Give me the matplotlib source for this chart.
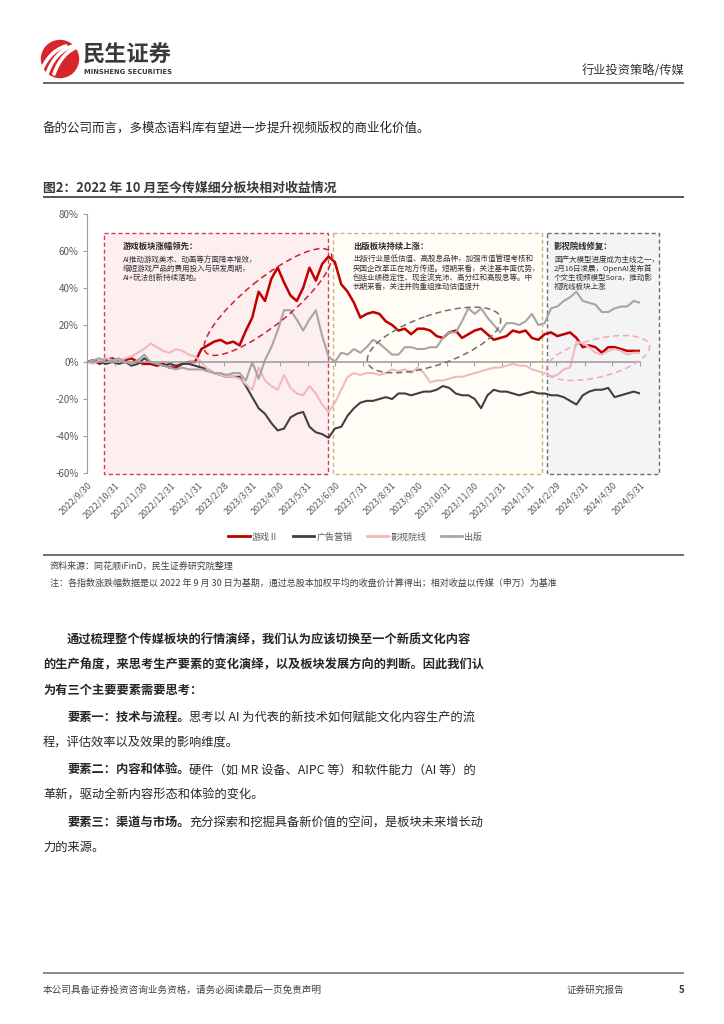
"""Page 5 of the Minsheng media strategy report: sub-sector relative returns."""

import matplotlib

matplotlib.use("Agg")
import matplotlib.pyplot as plt                      # noqa: E402
from matplotlib.patches import Rectangle, Ellipse, Circle, PathPatch  # noqa: E402
from matplotlib.path import Path                     # noqa: E402
from matplotlib.lines import Line2D                  # noqa: E402
import pandas as pd                                  # noqa: E402

plt.rcParams["font.family"] = ["Noto Sans CJK SC", "DejaVu Sans"]

# ---- data (relative return, %, weekly reads off the chart) ----
DATES = pd.date_range("2022-09-30", "2024-05-31", periods=88)
GAME = [0, 1, -1, 1, 2, 0, 1, 2, 0, -1, -1, -2, -1, -3, -3, -1, 0, 0, 7, 9,
        11, 12, 10, 11, 9, 17, 24, 38, 33, 45, 51, 43, 36, 33, 40, 51, 44, 53, 57, 54,
        42, 38, 32, 24, 26, 27, 26, 22, 20, 17, 18, 15, 18, 18, 17, 14, 13, 16, 17, 13,
        15, 17, 18, 15, 12, 13, 14, 17, 16, 17, 13, 12, 15, 16, 14, 15, 16, 13, 8, 9,
        8, 5, 8, 8, 7, 6, 6, 6]
ADV = [0, 1, 0, -1, 0, -1, 0, -2, -1, 2, 0, -1, -2, -1, -2, -1, -1, -2, -3, -4,
       -6, -7, -8, -8, -8, -13, -19, -25, -28, -33, -37, -36, -30, -28, -27, -35, -38, -39, -41, -36,
       -35, -29, -25, -22, -21, -21, -20, -19, -20, -17, -17, -18, -17, -16, -16, -15, -13, -14, -17, -18,
       -18, -20, -25, -18, -15, -16, -16, -17, -18, -17, -16, -17, -17, -18, -18, -19, -21, -23, -18, -16,
       -15, -15, -14, -19, -18, -17, -16, -17]
FILM = [0, -1, 1, 2, 1, 0, 2, 3, 5, 7, 10, 8, 6, 5, 7, 6, 4, 3, 0, -4,
        -6, -7, -8, -8, -9, -12, -15, -3, -10, -13, -15, -7, -14, -17, -18, -13, -17, -23, -27, -22,
        -15, -8, -6, -7, -6, -6, -7, -6, -4, -5, -4, -6, -3, -6, -11, -10, -10, -9, -8, -8,
        -7, -6, -5, -4, -3, -3, -2, -1, -2, -2, -4, -5, -6, -8, -7, -4, -3, 11, 10, 8,
        5, 4, 6, 7, 6, 4, 5, 5]
PUB = [0, 1, 2, 0, 1, 2, 0, -1, 1, 4, 0, -1, -2, -3, -4, -3, -4, -4, -4, -5,
       -6, -6, -7, -6, -6, -10, 0, -9, 1, 8, 17, 28, 28, 23, 17, 23, 28, 14, 3, 0,
       5, 4, 7, 5, 8, 12, 10, 7, 4, 4, 8, 8, 7, 7, 8, 8, 13, 16, 16, 22,
       29, 26, 29, 24, 20, 16, 21, 21, 20, 22, 26, 20, 21, 29, 30, 33, 35, 38, 33, 32,
       31, 27, 27, 29, 30, 30, 33, 32]

SERIES = ["游戏Ⅱ", "广告营销", "影视院线", "出版"]
COLORS = ["#c00000", "#404040", "#f2b9b9", "#a6a6a6"]
YTICKS = [-60, -40, -20, 0, 20, 40, 60, 80]
XTICKS = pd.date_range("2022-09-30", "2024-05-31", freq="ME")

W, H = 724, 1024
TXT = "#262626"
GREY_TXT = "#595959"


def rect(x0, y0, x1, y1):
    """Page pixel box -> figure fraction rect."""
    return [x0 / W, 1 - y1 / H, (x1 - x0) / W, (y1 - y0) / H]


def overlay(z):
    a = fig.add_axes([0, 0, 1, 1])
    a.set_xlim(0, W)
    a.set_ylim(H, 0)
    a.axis("off")
    a.set_zorder(z)
    a.patch.set_alpha(0)
    return a


fig = plt.figure(figsize=(W / 100, H / 100), dpi=100)
bg = overlay(0)

# ---- header ----
bg.add_patch(Circle((60, 59), 18.5, color="#d7262b"))
for dx in (-7, 0, 7):
    verts = [(47 + dx, 74), (52 + dx, 60), (60 + dx, 50), (73 + dx, 46)]
    bg.add_patch(PathPatch(Path(verts, [Path.MOVETO, Path.CURVE4, Path.CURVE4, Path.CURVE4]),
                           fc="none", ec="white", lw=2.6, capstyle="round"))
bg.text(83, 55, "民生证券", fontsize=16, fontweight="bold", color="#3a3a3a", va="center")
bg.text(84, 72, "MINSHENG SECURITIES", fontsize=4.9, fontweight="bold", color="#3a3a3a",
        va="center", family=["DejaVu Sans"])
bg.text(684, 70, "行业投资策略/传媒", fontsize=8.8, color="#333333", ha="right", va="center")
bg.hlines(83, 43, 684, color="#666666", lw=1.4)

bg.text(43, 128, "备的公司而言，多模态语料库有望进一步提升视频版权的商业化价值。",
        fontsize=9, color=TXT, va="center")

# ---- figure title ----
bg.text(43, 188, "图2：2022 年 10 月至今传媒细分板块相对收益情况", fontsize=9.3,
        fontweight="bold", color="#3a3a3a", va="center")
bg.hlines(196.5, 43, 684, color="#555555", lw=1.4)

# ---- highlight boxes ----
boxes = [((104, 233, 328, 474), "#fdeef0", "#d2404c"),
         ((333, 233, 542, 474), "#fffdf5", "#c8b478"),
         ((547, 233, 659, 474), "#f4f4f6", "#6e6e6e")]
for (x0, y0, x1, y1), fc, ec in boxes:
    bg.add_patch(Rectangle((x0, y0), x1 - x0, y1 - y0, fc=fc, ec=ec, lw=1.0,
                           ls=(0, (3, 2))))

notes = [
    (123, "游戏板块涨幅领先：", ["AI推动游戏美术、动画等方面降本增效，",
                           "缩短游戏产品的费用投入与研发周期，",
                           "AI+玩法创新持续落地。"]),
    (353, "出版板块持续上涨：", ["出版行业是低估值、高股息品种，加强市值管理考核和",
                           "央国企改革正在地方传递。短期来看，关注基本面优势，",
                           "包括业绩稳定性、现金流充沛、高分红和高股息等。中",
                           "长期来看，关注并购重组推动估值提升"]),
    (554, "影视院线修复：", ["国产大模型进度成为主线之一，",
                        "2月16日凌晨，OpenAI发布首",
                        "个文生视频模型Sora，推动影",
                        "视院线板块上涨"]),
]
for x, head, lines in notes:
    bg.text(x, 246, head, fontsize=6.0, fontweight="bold", color="#262626", va="center")
    for k, s in enumerate(lines):
        bg.text(x, 259.5 + 9 * k, s, fontsize=5.45, color="#333333", va="center")

# ---- chart ----
ax = fig.add_axes(rect(87, 214, 640, 473))
ax.set_zorder(2)
ax.patch.set_alpha(0)
for vals, col, lab in zip([GAME, ADV, FILM, PUB], COLORS, SERIES):
    ax.plot(DATES, vals, color=col, lw=1.8 if col == "#c00000" else 1.5, label=lab)
ax.set_xlim(DATES[0], DATES[-1])
ax.set_ylim(-60, 80)
ax.set_yticks(YTICKS)
ax.set_yticklabels([f"{v}%" for v in YTICKS])
for side in ("top", "right"):
    ax.spines[side].set_visible(False)
ax.spines["left"].set_color("#a0a0a0")
ax.spines["bottom"].set_color("#a0a0a0")
ax.spines["bottom"].set_position(("data", 0))
ax.spines["bottom"].set_linewidth(1.2)
ax.set_xticks(XTICKS)
ax.tick_params(axis="x", length=3, color="#a0a0a0", labelbottom=False)
ax.tick_params(axis="y", length=3, color="#a0a0a0", labelsize=7, labelcolor=GREY_TXT, pad=3)
for d in XTICKS:
    ax.text(d, -0.03, f"{d.year}/{d.month}/{d.day}", transform=ax.get_xaxis_transform(),
            rotation=45, ha="right", va="top", rotation_mode="anchor", fontsize=6.4,
            color=GREY_TXT)

handles = [Line2D([], [], color=c, lw=2) for c in COLORS]
fig.legend(handles, SERIES, loc="center", bbox_to_anchor=(355 / W, 1 - 537 / H), ncol=4,
           frameon=False, fontsize=6.5, handlelength=2.4, handletextpad=0.2,
           columnspacing=1.6, labelcolor=GREY_TXT)

# dashed ellipses drawn over the lines
top = overlay(3)
for (cx, cy), w, h, ang, col in [((268, 302), 160, 46, -39, "#d0202a"),
                                 ((434, 340), 140, 50, -19, "#707070"),
                                 ((598, 358), 106, 38, -14, "#f0a9b2")]:
    top.add_patch(Ellipse((cx, cy), w, h, angle=ang, fc="none", ec=col, lw=1.1,
                          ls=(0, (4, 2.5))))

# ---- source notes ----
bg.hlines(555, 43, 684, color="#555555", lw=1.2)
bg.text(50, 566, "资料来源：同花顺iFinD，民生证券研究院整理", fontsize=6.5, color="#404040",
        va="center")
bg.text(50, 583, "注：各指数涨跌幅数据是以 2022 年 9 月 30 日为基期，通过总股本加权平均的收盘价计算得出；"
        "相对收益以传媒（申万）为基准", fontsize=6.5, color="#404040", va="center")

# ---- body text ----
EM = 8.8 * 100 / 72
body = [
    (640, 67, "通过梳理整个传媒板块的行情演绎，我们认为应该切换至一个新质文化内容", ""),
    (665, 43, "的生产角度，来思考生产要素的变化演绎，以及板块发展方向的判断。因此我们认", ""),
    (690, 43, "为有三个主要要素需要思考：", ""),
    (717, 67, "要素一：技术与流程。", "思考以 AI 为代表的新技术如何赋能文化内容生产的流"),
    (742, 43, "", "程，评估效率以及效果的影响维度。"),
    (770, 67, "要素二：内容和体验。", "硬件（如 MR 设备、AIPC 等）和软件能力（AI 等）的"),
    (795, 43, "", "革新，驱动全新内容形态和体验的变化。"),
    (822, 67, "要素三：渠道与市场。", "充分探索和挖掘具备新价值的空间，是板块未来增长动"),
    (847, 43, "", "力的来源。"),
]
for y, x, bold, plain in body:
    if bold:
        bg.text(x, y, bold, fontsize=8.8, fontweight="bold", color=TXT, va="center")
    if plain:
        bg.text(x + len(bold) * EM, y, plain, fontsize=8.8, color=TXT, va="center")

# ---- footer ----
bg.hlines(973, 43, 684, color="#777777", lw=1.2)
bg.text(43, 990, "本公司具备证券投资咨询业务资格，请务必阅读最后一页免责声明", fontsize=6.9,
        color="#404040", va="center")
bg.text(567, 990, "证券研究报告", fontsize=6.9, color="#404040", va="center")
bg.text(679, 990, "5", fontsize=7, fontweight="bold", color="#404040", va="center")

fig.savefig("out.png", dpi=100)
